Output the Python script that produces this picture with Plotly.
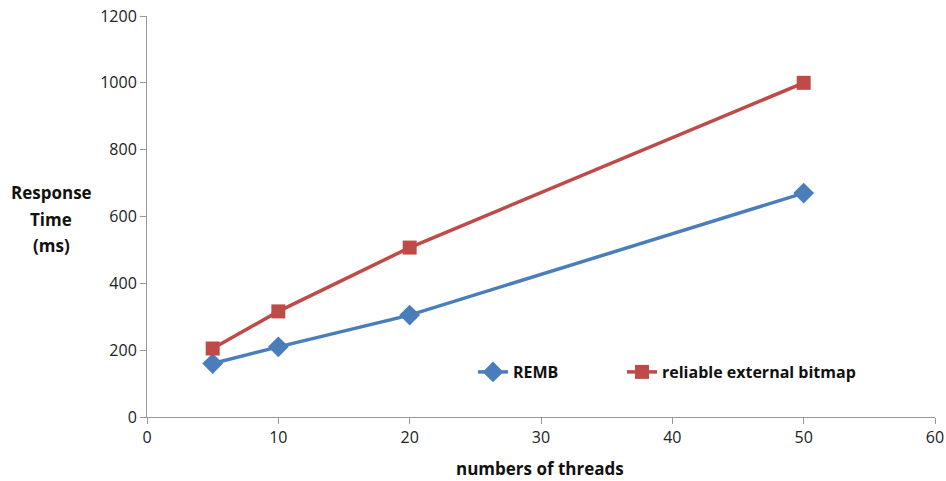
import plotly.graph_objects as go

threads = [5, 10, 20, 50]
remb = [160, 210, 305, 670]
reliable = [205, 316, 507, 1000]

blue = "#4A7EBB"
red = "#BE4B48"
fam = "Open Sans, Liberation Sans, sans-serif"

fig = go.Figure()
fig.add_trace(go.Scatter(x=threads, y=remb, mode="lines+markers", name="REMB",
                         line=dict(color=blue, width=3.5),
                         marker=dict(symbol="diamond", size=16, color=blue),
                         legend="legend"))
fig.add_trace(go.Scatter(x=threads, y=reliable, mode="lines+markers", name="reliable external bitmap",
                         line=dict(color=red, width=3.5),
                         marker=dict(symbol="square", size=14, color=red),
                         legend="legend2"))

axis_font = dict(family=fam, size=16, color="#222")
leg_font = dict(size=16, color="#111", family=fam, weight="bold")
fig.update_layout(
    template="none",
    width=946, height=481,
    margin=dict(l=147, r=11, t=16, b=64, autoexpand=False),
    paper_bgcolor="white", plot_bgcolor="white",
    font=axis_font,
    showlegend=True,
    legend=dict(x=(473 - 147) / 788, y=(417 - 372) / 401, xanchor="left", yanchor="middle",
                font=leg_font, bgcolor="rgba(0,0,0,0)", borderwidth=0),
    legend2=dict(x=(622 - 147) / 788, y=(417 - 372) / 401, xanchor="left", yanchor="middle",
                 font=leg_font, bgcolor="rgba(0,0,0,0)", borderwidth=0),
    xaxis=dict(range=[0, 60], dtick=10, showgrid=False, zeroline=False, showline=True,
               linecolor="#999", linewidth=1, ticks="outside", tickcolor="#999", ticklen=6,
               tickfont=axis_font, automargin=False),
    yaxis=dict(range=[0, 1200], dtick=200, showgrid=False, zeroline=False, showline=True,
               linecolor="#999", linewidth=1, ticks="outside", tickcolor="#999", ticklen=6,
               tickfont=axis_font, automargin=False),
)
title_font = dict(size=17, color="#111", family=fam, weight="bold")
for txt, ypx in [("Response", 192), ("Time", 219), ("(ms)", 245)]:
    fig.add_annotation(text=txt, xref="paper", yref="paper",
                       x=(51 - 147) / 788, y=(417 - ypx) / 401, xanchor="center", yanchor="middle",
                       showarrow=False, font=title_font, borderpad=0)
fig.add_annotation(text="numbers of threads", xref="paper", yref="paper",
                   x=(540 - 147) / 788, y=(417 - 469) / 401, xanchor="center", yanchor="middle",
                   showarrow=False, font=title_font, borderpad=0)
fig.write_html("out.html")
